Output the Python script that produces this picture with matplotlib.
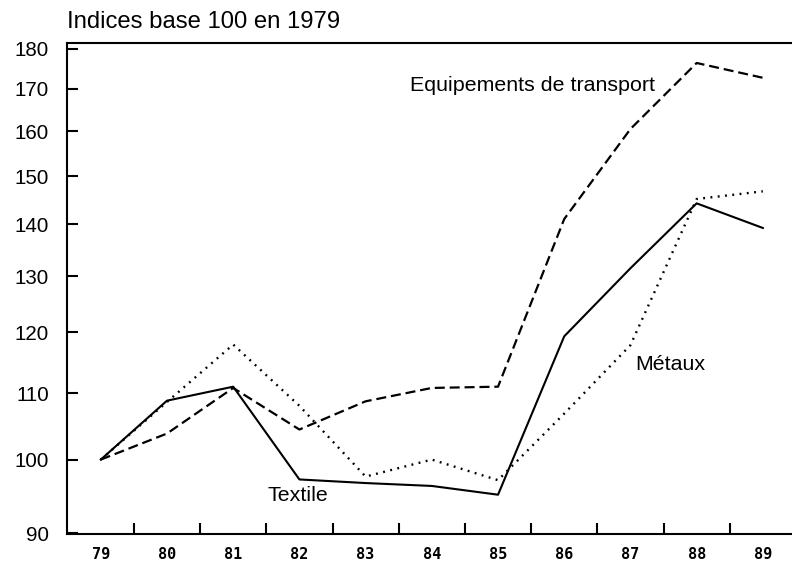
import matplotlib
matplotlib.use("Agg")
import matplotlib.pyplot as plt
from matplotlib.ticker import FixedLocator, NullFormatter

# Indices base 100 en 1979
years = [79, 80, 81, 82, 83, 84, 85, 86, 87, 88, 89]
textile = [100, 108.8, 111.0, 97.2, 96.7, 96.3, 95.1, 119.3, 131.5, 144.3, 139.3]
transport = [100, 103.8, 110.8, 104.4, 108.7, 110.8, 111.0, 141.1, 160.5, 176.4, 172.7]
metaux = [100, 108.6, 117.9, 108.0, 97.6, 100.0, 97.1, 106.8, 117.8, 145.2, 146.8]
y_ticks = [90, 100, 110, 120, 130, 140, 150, 160, 170, 180]

plt.rcParams['font.family'] = ['Liberation Sans', 'DejaVu Sans']

fig = plt.figure(figsize=(7.92, 5.63), dpi=100)
ax = fig.add_axes([0.0846, 0.0515, 0.9154, 0.872])

ax.plot(years, textile, color='black', lw=1.5, linestyle='-')
ax.plot(years, transport, color='black', lw=1.6, linestyle=(0, (4.5, 2.2)))
ax.plot(years, metaux, color='black', lw=1.7, linestyle=(0, (0.8, 2.3)))

ax.set_yscale('log')
ax.set_ylim(89.9, 181.5)
ax.set_xlim(78.49, 89.44)

# y axis
ax.yaxis.set_major_locator(FixedLocator(y_ticks))
ax.yaxis.set_minor_locator(FixedLocator([]))
ax.yaxis.set_minor_formatter(NullFormatter())
ax.set_yticklabels([str(v) for v in y_ticks])
ax.tick_params(axis='y', which='major', direction='in', length=8, width=1.5,
               pad=13, labelsize=14.8)

# x axis: labels at years, ticks between them
ax.set_xticks(years)
ax.set_xticklabels([str(y) for y in years], family='DejaVu Sans Mono',
                   fontweight='bold', fontsize=11)
ax.set_xticks([y + 0.5 for y in years[:-1]], minor=True)
ax.tick_params(axis='x', which='major', length=0, pad=9)
ax.tick_params(axis='x', which='minor', direction='in', length=8, width=1.5)

for side in ['left', 'bottom', 'top']:
    ax.spines[side].set_linewidth(1.5)
ax.spines['right'].set_visible(False)

# series labels
ax.text(83.67, 170.9, 'Equipements de transport', fontsize=15.4, va='center', ha='left')
ax.text(87.08, 114.5, 'Métaux', fontsize=15.4, va='center', ha='left')
ax.text(81.52, 95.0, 'Textile', fontsize=15.4, va='center', ha='left')

fig.text(0.0846, 1 - 22 / 563, 'Indices base 100 en 1979', fontsize=17.2,
         va='center', ha='left')

fig.savefig('out.png', dpi=100)
